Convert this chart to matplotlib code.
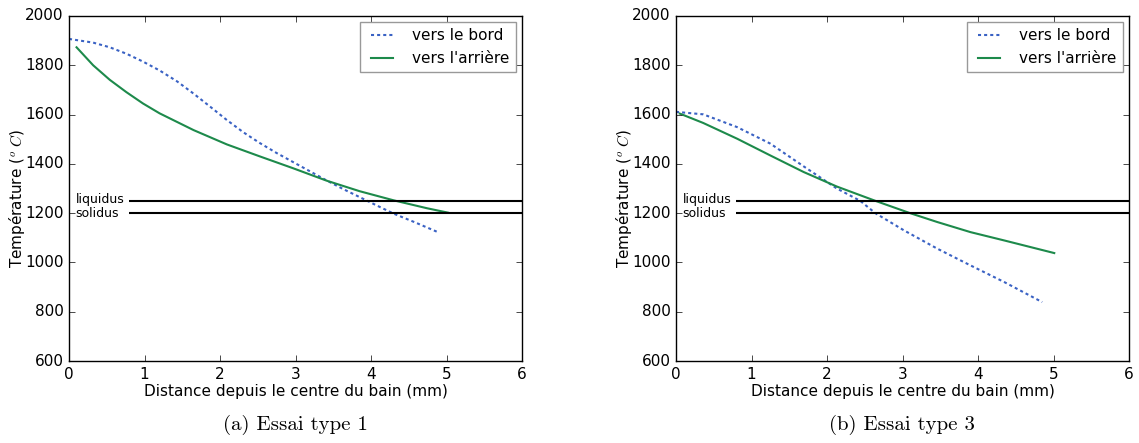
import matplotlib
matplotlib.use("Agg")
import matplotlib.pyplot as plt

plt.style.use('classic')
plt.rcParams['figure.facecolor'] = 'white'
plt.rcParams['savefig.facecolor'] = 'white'
plt.rcParams['mathtext.fontset'] = 'cm'
plt.rcParams['font.family'] = ['DejaVu Sans']

# ---- data ----
# (a) Essai type 1
xa_bord = [0.0, 0.32, 0.54, 0.76, 0.98, 1.2, 1.43, 1.65, 1.87, 2.09, 2.31, 2.53,
           2.75, 2.97, 3.19, 3.41, 3.63, 3.85, 4.07, 4.3, 4.58, 4.87]
ya_bord = [1907, 1892, 1873, 1847, 1815, 1779, 1735, 1685, 1632, 1578, 1528, 1484,
           1444, 1407, 1370, 1333, 1298, 1265, 1232, 1198, 1163, 1125]
xa_arr = [0.1, 0.32, 0.54, 0.76, 0.98, 1.2, 1.65, 2.09, 2.53, 2.97, 3.41, 3.85,
          4.3, 4.74, 5.02]
ya_arr = [1873, 1800, 1741, 1691, 1645, 1605, 1537, 1479, 1430, 1382, 1332, 1289,
          1252, 1220, 1202]

# (b) Essai type 3
xb_bord = [0.0, 0.36, 0.81, 1.25, 1.69, 2.13, 2.44, 2.64, 3.02, 3.46, 3.9, 4.35, 4.85]
yb_bord = [1611, 1601, 1549, 1482, 1390, 1300, 1250, 1200, 1130, 1056, 988, 920, 839]
xb_arr = [0.05, 0.36, 0.81, 1.25, 1.69, 2.13, 2.64, 3.1, 3.46, 3.9, 4.35, 5.01]
yb_arr = [1604, 1566, 1502, 1434, 1367, 1308, 1250, 1200, 1164, 1123, 1089, 1038]

liquidus = 1250
solidus = 1200
line_start = 0.8

series_labels = ["vers le bord", "vers l'arrière"]
captions = ["(a) Essai type 1", "(b) Essai type 3"]
xlabel = "Distance depuis le centre du bain (mm)"
ylabel = r"Température ($^o\ C$)"

blue = '#3a62c4'
green = '#1d8a4b'

W, H = 1139, 443
fig = plt.figure(figsize=(W / 100, H / 100), dpi=100)

panels = [
    (69, xa_bord, ya_bord, xa_arr, ya_arr, captions[0]),
    (676, xb_bord, yb_bord, xb_arr, yb_arr, captions[1]),
]

for left, xb, yb, xr, yr, cap in panels:
    ax = fig.add_axes([left / W, 82 / H, 453 / W, 345 / H])
    ax.plot(xb, yb, linestyle='--', dashes=(2.2, 2.2), color=blue, lw=1.5,
            label=series_labels[0])
    ax.plot(xr, yr, linestyle='-', color=green, lw=1.5, label=series_labels[1])
    ax.hlines([liquidus, solidus], line_start, 6, colors='black', lw=1.5)
    ax.text(0.09, liquidus + 6, 'liquidus', fontsize=9, va='center', ha='left')
    ax.text(0.09, solidus - 2, 'solidus', fontsize=9, va='center', ha='left')
    ax.set_xlim(0, 6)
    ax.set_ylim(600, 2000)
    ax.set_xticks(range(0, 7))
    ax.set_yticks(range(600, 2001, 200))
    ax.tick_params(labelsize=11)
    ax.set_xlabel(xlabel, fontsize=11, labelpad=2)
    ax.set_ylabel(ylabel, fontsize=11)
    ax.yaxis.set_label_coords(-0.093, 0.47)
    leg = ax.legend(loc='upper right', fontsize=11, handlelength=2.0,
                    handletextpad=1.0, borderaxespad=0.4,
                    fancybox=False, frameon=True)
    leg.get_frame().set_edgecolor('#999999')
    fig.text((left + 226) / W, 1 - 425 / H, cap, family='cmr10', fontsize=15,
             ha='center', va='center')

fig.savefig('out.png', dpi=100)
